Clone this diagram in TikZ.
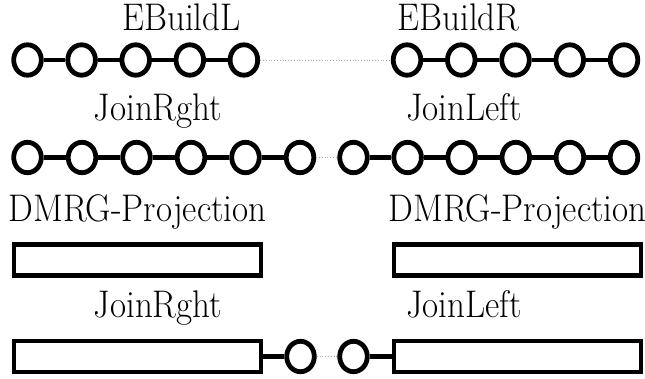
\documentclass[tikz,border=0pt]{standalone}
\usepackage{fontspec}
\usetikzlibrary{shapes.geometric}
\newcommand{\vt}[1]{\scalebox{1}[1.1]{#1}}
\begin{document}
\begin{tikzpicture}[x=1pt,y=-1pt,
  site/.style={draw,ellipse,line width=4.8pt,minimum width=27.6pt,minimum height=30.4pt,inner sep=0pt},
  block/.style={draw,rectangle,line width=4.8pt,minimum width=247pt,minimum height=31pt,inner sep=0pt},
  bond/.style={line width=4.8pt},
  link/.style={draw=gray!70,line width=0.8pt,dotted},
  lbl/.style={anchor=base,inner sep=0pt,font=\fontsize{35}{40}\selectfont}]
\useasboundingbox (0,0) rectangle (645,379);
% Row 1
\node[lbl] (t1) at (181.5,30.7) {\vt{EBuildL}};
\node[lbl] (t2) at (458.5,30.7) {\vt{EBuildR}};
\foreach \i [count=\k from 0] in {1,...,5} {
  \node[site] (a\i) at ({27.5+54.1*\k},60) {};
  \node[site] (b\i) at ({407+54.25*\k},60) {};
}
\foreach \i/\j in {1/2,2/3,3/4,4/5} {
  \draw[bond] (a\i) -- (a\j);
  \draw[bond] (b\i) -- (b\j);
}
\draw[link] (a5) -- (b1);
% Row 2
\node[lbl] (t3) at (158,121) {\vt{JoinRght}};
\node[lbl] (t4) at (464,121) {\vt{JoinLeft}};
\foreach \i [count=\k from 0] in {1,...,6} {
  \node[site] (c\i) at ({27.5+54.5*\k},157.5) {};
  \node[site] (d\i) at ({353.5+54.1*\k},157.5) {};
}
\foreach \i/\j in {1/2,2/3,3/4,4/5,5/6} {
  \draw[bond] (c\i) -- (c\j);
  \draw[bond] (d\i) -- (d\j);
}
\draw[link] (c6) -- (d1);
% Row 3
\node[lbl] (t5) at (137.5,222) {\vt{DMRG-Projection}};
\node[lbl] (t6) at (517.5,222) {\vt{DMRG-Projection}};
\node[block] (r1) at (137.5,260) {};
\node[block] (r2) at (517.5,260) {};
% Row 4
\node[lbl] (t7) at (158,317) {\vt{JoinRght}};
\node[lbl] (t8) at (464,317) {\vt{JoinLeft}};
\node[block] (r3) at (137.5,356.5) {};
\node[block] (r4) at (517.5,356.5) {};
\node[site] (e1) at (300.5,356.5) {};
\node[site] (e2) at (353.5,356.5) {};
\draw[bond] (r3) -- (e1);
\draw[bond] (e2) -- (r4);
\draw[link] (e1) -- (e2);
\end{tikzpicture}
\end{document}
